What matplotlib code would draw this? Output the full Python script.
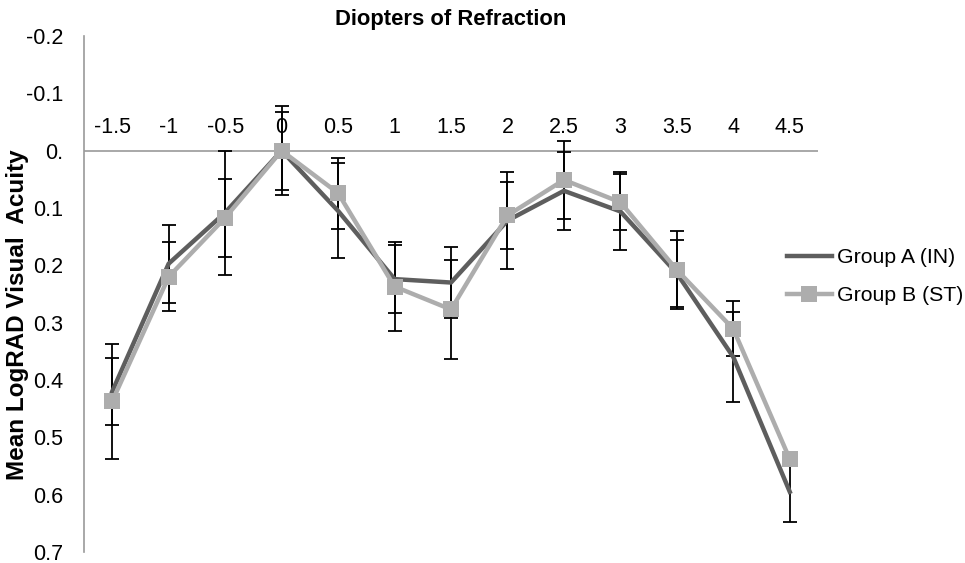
import matplotlib
matplotlib.use('Agg')
import matplotlib.pyplot as plt
import numpy as np

plt.rcParams['font.family'] = ['Liberation Sans', 'DejaVu Sans']

diopters = ['-1.5', '-1', '-0.5', '0', '0.5', '1', '1.5', '2', '2.5', '3', '3.5', '4', '4.5']

group_a = [0.42, 0.197, 0.108, 0.0, 0.105, 0.224, 0.23, 0.122, 0.07, 0.106, 0.214, 0.36, 0.595]
err_a = [0.058, 0.068, 0.108, 0.078, 0.083, 0.059, 0.062, 0.084, 0.068, 0.068, 0.058, 0.078, 0.052]

group_b = [0.437, 0.22, 0.117, 0.0, 0.074, 0.237, 0.277, 0.113, 0.051, 0.09, 0.208, 0.311, 0.538]
err_b = [0.10, 0.06, 0.068, 0.068, 0.062, 0.078, 0.086, 0.059, 0.068, 0.049, 0.068, 0.048, 0.012]

yticks = [-0.2, -0.1, 0.0, 0.1, 0.2, 0.3, 0.4, 0.5, 0.6, 0.7]
ytick_labels = ['-0.2', '-0.1', '0.', '0.1', '0.2', '0.3', '0.4', '0.5', '0.6', '0.7']

x = np.arange(len(diopters))

fig = plt.figure(figsize=(9.65, 5.63), dpi=100)
ax = fig.add_axes([84/965, 1-552/563, 734/965, 516/563])

# error bars underneath the lines
ax.errorbar(x, group_a, yerr=err_a, fmt='none', ecolor='black', elinewidth=1.3,
            capsize=5, capthick=1.3, zorder=2)
ax.errorbar(x, group_b, yerr=err_b, fmt='none', ecolor='black', elinewidth=1.3,
            capsize=5, capthick=1.3, zorder=2)

ax.plot(x, group_a, color='#5e5e5e', lw=3.2, label='Group A (IN)', zorder=3)
ax.plot(x, group_b, color='#adadad', lw=3.2, marker='s', markersize=12,
        markeredgewidth=0, label='Group B (ST)', zorder=4)

ax.axhline(0, color='#9a9a9a', lw=1.2, zorder=1)

ax.set_xlim(-0.5, len(diopters)-0.5)
ax.set_ylim(0.7, -0.2)
ax.set_xticks([])
ax.set_yticks(yticks)
ax.set_yticklabels(ytick_labels, fontsize=15.5)
ax.tick_params(axis='y', length=0, pad=15)

# category labels sit just above the zero line
for i, d in enumerate(diopters):
    ax.text(i, -0.041, d, ha='center', va='center', fontsize=15.5)

for s in ['top', 'right', 'bottom']:
    ax.spines[s].set_visible(False)
ax.spines['left'].set_color('#9a9a9a')
ax.spines['left'].set_linewidth(1.2)

fig.text(451/965, 1-20/563, 'Diopters of Refraction', ha='center', va='center',
         fontsize=15.8, fontweight='bold')
fig.text(18/965, 1-315/563, 'Mean LogRAD Visual  Acuity', ha='center', va='center',
         rotation=90, fontsize=17.5, fontweight='bold')

fig.legend(loc='center left', bbox_to_anchor=(787/965, 1-276.5/563), frameon=False,
           fontsize=15.3, handlelength=2.1, handletextpad=0.25, labelspacing=0.9,
           borderpad=0, borderaxespad=0)

fig.savefig('out.png', dpi=100)
